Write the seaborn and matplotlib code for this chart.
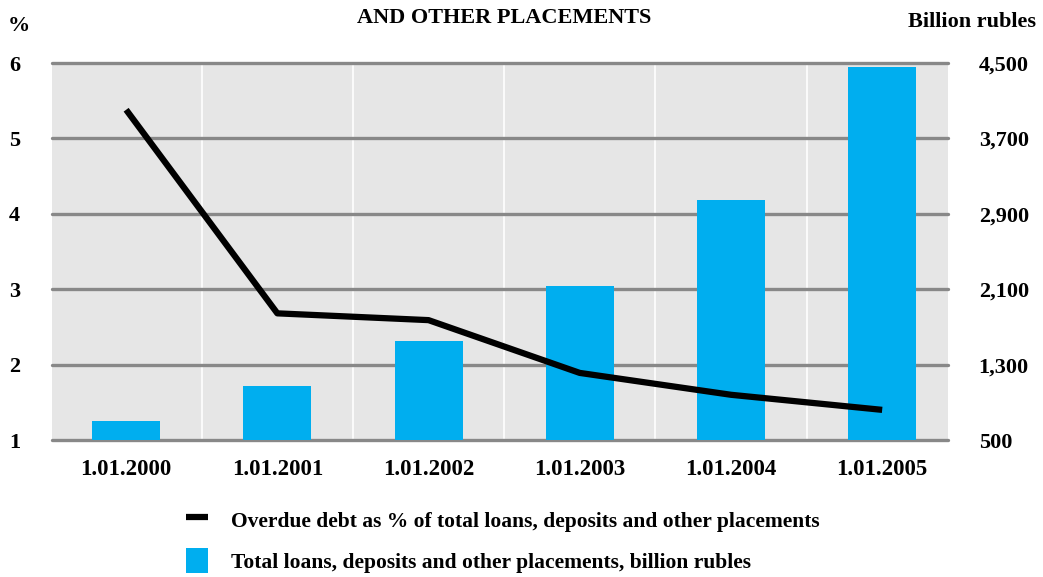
import matplotlib
matplotlib.use("Agg")
import matplotlib.pyplot as plt
import seaborn as sns
from matplotlib.ticker import FuncFormatter

# данные
dates = ["1.01.2000", "1.01.2001", "1.01.2002", "1.01.2003", "1.01.2004", "1.01.2005"]
loans_bln = [700, 1075, 1550, 2135, 3045, 4460]
overdue_pct = [5.38, 2.68, 2.59, 1.89, 1.60, 1.40]

bar_label = "Total loans, deposits and other placements, billion rubles"
line_label = "Overdue debt as % of total loans, deposits and other placements"

sns.set_theme(style="white")
plt.rcParams["font.family"] = ["Liberation Serif", "DejaVu Serif"]
plt.rcParams["font.weight"] = "bold"
plt.rcParams["text.color"] = "black"
plt.rcParams["xtick.color"] = "black"
plt.rcParams["ytick.color"] = "black"

fig = plt.figure(figsize=(10.43, 5.77), dpi=100)
ax = fig.add_axes([0.0499, 0.2374, 0.8591, 0.6534])

# столбцы - правая шкала
sns.barplot(x=dates, y=loans_bln, color="#00aeef", saturation=1,
            width=0.45, ax=ax, label=bar_label, linewidth=0, zorder=3)
ax2 = ax.twinx()

ax.set_ylim(500, 4500)
ax.set_yticks(range(500, 4501, 800))
ax.yaxis.tick_right()
ax.yaxis.set_major_formatter(FuncFormatter(lambda v, p: f"{int(v):,}"))
ax.set_facecolor("#e6e6e6")
ax.set_axisbelow(True)
ax.grid(axis="y", color="#888888", linewidth=2.4)
for gl in ax.get_ygridlines():
    gl.set_clip_on(False)
ax.set_xticks([0.5, 1.5, 2.5, 3.5, 4.5], minor=True)
ax.grid(axis="x", which="minor", color="white", linewidth=1.2)
ax.grid(axis="x", which="major", visible=False)
ax.set_xlim(-0.49, 5.436)
for s in ax.spines.values():
    s.set_visible(False)
ax.tick_params(axis="y", which="both", length=0, pad=22, labelsize=16)
ax.tick_params(axis="x", which="both", length=0, pad=14, labelsize=16.5)
ax.get_legend().remove()

# линия - левая шкала
sns.lineplot(x=dates, y=overdue_pct, color="black", linewidth=4.5,
             ax=ax2, label=line_label, sort=False)
ax2.set_ylim(1, 6)
ax2.set_yticks(range(1, 7))
ax2.yaxis.tick_left()
ax2.tick_params(axis="y", length=0, pad=23, labelsize=16)
for s in ax2.spines.values():
    s.set_visible(False)
ax2.get_legend().remove()

fig.text(0.483, 0.968, "AND OTHER PLACEMENTS", ha="center", va="center", fontsize=16)
fig.text(0.018, 0.955, "%", ha="center", va="center", fontsize=16)
fig.text(0.993, 0.962, "Billion rubles", ha="right", va="center", fontsize=16)

h1, l1 = ax2.get_legend_handles_labels()
h0, l0 = ax.get_legend_handles_labels()
h1[0].set_solid_capstyle("butt")
fig.legend(h1 + h0, l1 + l0, loc="upper left", bbox_to_anchor=(0.16, 0.155),
           frameon=False, fontsize=15.5, handlelength=1.0, handleheight=1.4,
           handletextpad=1.1, labelspacing=0.75)

plt.savefig("out.png", dpi=100)
